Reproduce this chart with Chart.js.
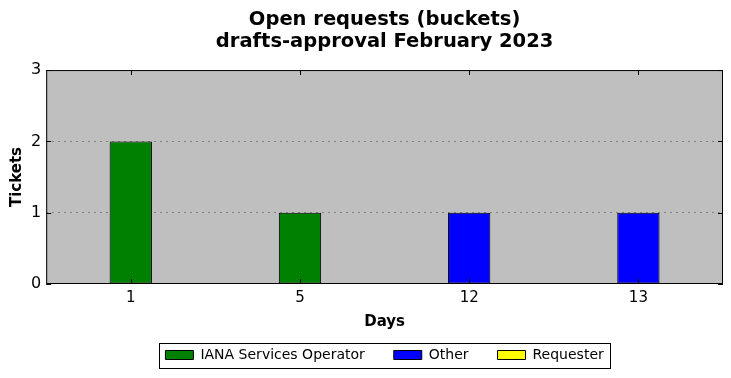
<!DOCTYPE html>
<html>
<head>
<meta charset="utf-8">
<script src="https://cdn.jsdelivr.net/npm/chart.js@4.4.0/dist/chart.umd.min.js"></script>
<style>
  html, body { margin: 0; padding: 0; background: #ffffff; }
  #wrap { width: 731px; height: 378px; }
</style>
</head>
<body>
<div id="wrap"><canvas id="chart-buckets" width="731" height="378"></canvas></div>
<script>
var days = ["1", "5", "12", "13"];
var ianaOperator = [2, 1, 0, 0];
var other = [0, 0, 1, 1];
var requester = [0, 0, 0, 0];
var yTicks = [0, 1, 2, 3];

var ctx = document.getElementById("chart-buckets").getContext("2d");
var FONT = "'DejaVu Sans', sans-serif";

// frame round the plot plus matplotlib-style inward tick marks
var frameTicks = {
  id: "frameTicks",
  afterDatasetsDraw: function (chart) {
    var a = chart.chartArea;
    var c = chart.ctx;
    c.save();
    c.strokeStyle = "#000000";
    c.lineWidth = 1;
    c.strokeRect(a.left + 0.5, a.top + 0.5, a.right - a.left - 1, a.bottom - a.top - 1);
    c.beginPath();
    var ys = chart.scales.y;
    ys.ticks.forEach(function (t, i) {
      var py = Math.round(ys.getPixelForTick(i)) + 0.5;
      c.moveTo(a.left, py); c.lineTo(a.left + 5, py);
      c.moveTo(a.right, py); c.lineTo(a.right - 5, py);
    });
    var xs = chart.scales.x;
    xs.ticks.forEach(function (t, i) {
      var px = Math.round(xs.getPixelForTick(i)) + 0.5;
      c.moveTo(px, a.top); c.lineTo(px, a.top + 5);
      c.moveTo(px, a.bottom); c.lineTo(px, a.bottom - 5);
    });
    c.stroke();
    c.restore();
  }
};

// grey plot background
var plotBg = {
  id: "plotBg",
  beforeDraw: function (chart) {
    var a = chart.chartArea;
    chart.ctx.save();
    chart.ctx.fillStyle = "#bfbfbf";
    chart.ctx.fillRect(a.left, a.top, a.right - a.left, a.bottom - a.top);
    chart.ctx.restore();
  }
};

// box round the legend
var legendBox = {
  id: "legendBox",
  afterDraw: function (chart) {
    var l = chart.legend;
    var c = chart.ctx;
    var items = l.legendHitBoxes;
    if (!items || !items.length) return;
    var first = items[0], last = items[items.length - 1];
    var x0 = first.left - 6, x1 = last.left + last.width + 7;
    var y0 = first.top - 5, y1 = first.top + first.height + 6;
    c.save();
    c.strokeStyle = "#000000";
    c.lineWidth = 1;
    c.strokeRect(Math.round(x0) + 0.5, Math.round(y0) + 0.5, Math.round(x1 - x0), Math.round(y1 - y0));
    c.restore();
  }
};

var chart = new Chart(ctx, {
  type: "bar",
  data: {
    labels: days,
    datasets: [
      { label: "IANA Services Operator", data: ianaOperator, backgroundColor: "#008000", borderColor: "#000000", borderWidth: 1 },
      { label: "Other", data: other, backgroundColor: "#0000ff", borderColor: "#000000", borderWidth: 1 },
      { label: "Requester", data: requester, backgroundColor: "#ffff00", borderColor: "#000000", borderWidth: 1 }
    ]
  },
  options: {
    responsive: false,
    animation: false,
    layout: { padding: { left: 0, right: 8, top: 0, bottom: 6 } },
    datasets: { bar: { barPercentage: 0.25, categoryPercentage: 1, borderSkipped: false } },
    scales: {
      x: {
        stacked: true,
        grid: { display: false, drawTicks: false },
        border: { display: false },
        ticks: { color: "#000000", font: { family: FONT, size: 15 }, padding: 5 },
        title: { display: true, text: "Days", color: "#000000", font: { family: FONT, size: 15, weight: "bold" }, padding: { top: 1, bottom: -12 } }
      },
      y: {
        stacked: true,
        min: 0,
        max: 3,
        afterBuildTicks: function (axis) {
          axis.ticks = yTicks.map(function (v) { return { value: v }; });
        },
        grid: {
          drawTicks: false,
          color: function (c) { return (c.tick.value === 0 || c.tick.value === 3) ? "rgba(0,0,0,0)" : "#808080"; },
          lineWidth: 1
        },
        border: { display: false, dash: [2, 4] },
        ticks: { color: "#000000", font: { family: FONT, size: 16 }, padding: 5 },
        title: { display: true, text: "Tickets", color: "#000000", font: { family: FONT, size: 15, weight: "bold" }, padding: { top: 8, bottom: 0 } }
      }
    },
    plugins: {
      title: {
        display: true,
        fullSize: false,
        text: ["Open requests (buckets)", "drafts-approval February 2023"],
        color: "#000000",
        font: { family: FONT, size: 19.5, weight: "bold", lineHeight: 1.13 },
        padding: { top: 9, bottom: 17 }
      },
      legend: {
        position: "bottom",
        fullSize: false,
        labels: {
          color: "#000000",
          font: { family: FONT, size: 14 },
          boxWidth: 28,
          boxHeight: 9,
          padding: 29
        }
      },
      tooltip: { enabled: false }
    }
  },
  plugins: [plotBg, frameTicks, legendBox]
});
</script>
</body>
</html>
